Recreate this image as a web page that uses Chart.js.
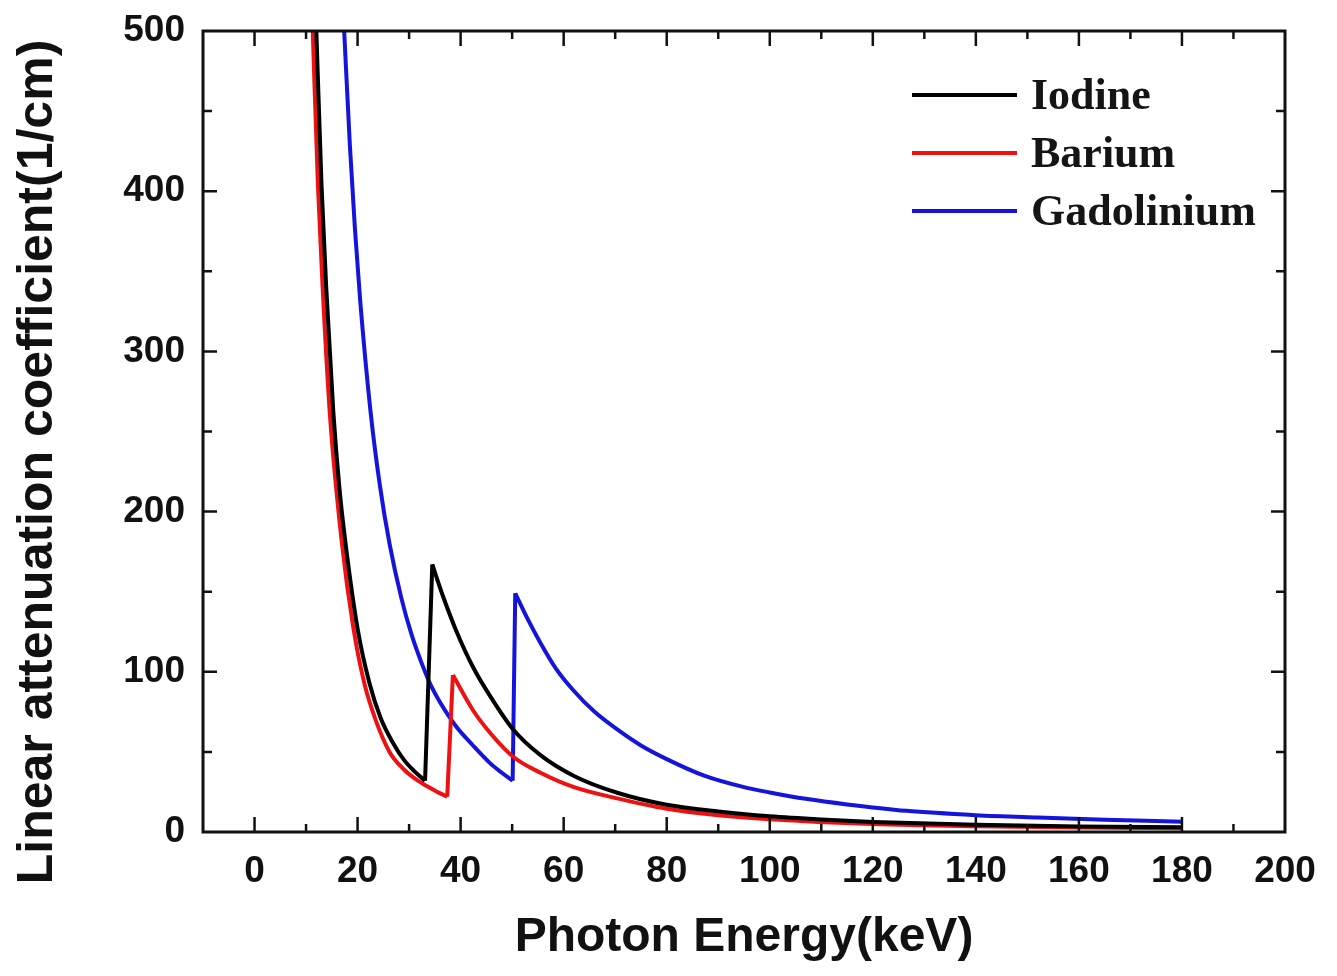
<!DOCTYPE html>
<html>
<head>
<meta charset="utf-8">
<script src="https://cdn.jsdelivr.net/npm/chart.js@4.4.0/dist/chart.umd.min.js"></script>
<style>
  html, body { margin: 0; padding: 0; background: #fff; }
  #wrap { width: 1337px; height: 976px; }
</style>
</head>
<body>
<div id="wrap"><canvas id="attenChart" width="1337" height="976"></canvas></div>
<script>
// Photon energy (keV) and linear attenuation coefficient (1/cm)
const iodineEnergy = [12.0, 13.0, 13.9, 15.3, 16.5, 17.6, 20, 22.3, 24.5, 26.8, 29, 31, 33.1,
    34.5, 36.6, 39.1, 42.4, 45.7, 50.2, 55.5, 62, 70.4, 80, 90, 100, 110, 120, 140, 160, 180];
const iodineMu = [500, 404, 341, 262, 214, 182, 127, 93, 71, 56, 45, 38, 32,
    167, 147, 126, 103, 85, 64, 48, 35, 24.5, 17, 12.8, 9.8, 7.8, 6.3, 4.5, 3.5, 3];

const bariumEnergy = [11.3, 12.3, 13.2, 14.6, 16.9, 19.2, 21.3, 23.5, 26.2, 29, 31.5, 33.5, 35.5, 37.4,
    38.5, 42.4, 45.7, 50.2, 55.5, 62, 70.4, 80, 90, 100, 120, 140, 160, 180];
const bariumMu = [500, 404, 341, 262, 182, 127, 93, 70, 50, 39, 32.5, 28.5, 25, 22,
    98, 76, 62, 47, 37, 28, 21, 14.5, 10.5, 8, 5, 3.6, 2.8, 2.3];

const gadoliniumEnergy = [17.4, 18.5, 19.5, 20.5, 22.5, 24.3, 26.2, 28.5, 30.5, 32.6, 34.3, 36, 39.1,
    42.4, 45.7, 48, 50.1,
    50.6, 53, 55.5, 58.5, 62, 66, 70.4, 75, 80, 87.4, 95, 100, 107, 115, 126.5, 140, 152, 165, 180];
const gadoliniumMu = [500, 429, 376, 332, 263, 217, 180, 146, 123, 104, 91, 81, 66,
    54, 43, 37, 32,
    149, 133, 118, 102, 88, 75, 64, 54, 45.5, 35, 28, 24.7, 20.7, 17.2, 13.2, 10.5, 9, 7.6, 6.4];

const seriesNames = ['Iodine', 'Barium', 'Gadolinium'];
const seriesColors = ['#000000', '#ee1111', '#1414dd'];

const xTickMin = -10, xTickMax = 200;
const yTickMin = 0, yTickMax = 500;

function toPoints(xs, ys) {
    return xs.map((v, i) => ({ x: v, y: ys[i] }));
}

// split a curve at its K-edge: smooth part before, straight jump, smooth part after
function edgeDatasets(name, color, xs, ys) {
    const k = ys.findIndex((v, i) => i > 0 && v > ys[i - 1]);
    const pts = toPoints(xs, ys);
    return [
        { label: name, data: pts.slice(0, k), borderColor: color },
        { label: name, data: pts.slice(k - 1, k + 1), borderColor: color, cubicInterpolationMode: 'default', tension: 0 },
        { label: name, data: pts.slice(k), borderColor: color }
    ];
}

// frame, inward ticks on all four sides, rotated y title and the legend
const frameAndLegend = {
    id: 'frameAndLegend',
    afterDraw(chart) {
        const { ctx, chartArea: a, scales: { x, y } } = chart;
        ctx.save();
        ctx.strokeStyle = '#111';
        ctx.lineWidth = 3;
        ctx.strokeRect(a.left, a.top, a.right - a.left, a.bottom - a.top);

        ctx.lineWidth = 2.5;
        ctx.beginPath();
        x.ticks.forEach(t => {
            if (t.value <= xTickMin || t.value >= xTickMax) return;
            const px = x.getPixelForValue(t.value);
            const len = t.value % 20 === 0 ? 15 : 8;
            ctx.moveTo(px, a.bottom); ctx.lineTo(px, a.bottom - len);
            ctx.moveTo(px, a.top); ctx.lineTo(px, a.top + len);
        });
        y.ticks.forEach(t => {
            if (t.value <= yTickMin || t.value >= yTickMax) return;
            const py = y.getPixelForValue(t.value);
            const len = t.value % 100 === 0 ? 14 : 9;
            ctx.moveTo(a.left, py); ctx.lineTo(a.left + len, py);
            ctx.moveTo(a.right, py); ctx.lineTo(a.right - len, py);
        });
        ctx.stroke();

        // y axis title
        ctx.fillStyle = '#111';
        ctx.font = 'bold 50px "Liberation Sans", Arial, sans-serif';
        ctx.textAlign = 'center';
        ctx.textBaseline = 'middle';
        ctx.translate(38, 462);
        ctx.rotate(-Math.PI / 2);
        ctx.fillText('Linear attenuation coefficient(1/cm)', 0, 0);
        ctx.setTransform(1, 0, 0, 1, 0, 0);

        // legend
        ctx.font = 'bold 44px "Liberation Serif", "Times New Roman", serif';
        ctx.textAlign = 'left';
        ctx.textBaseline = 'middle';
        seriesNames.forEach((name, i) => {
            const ly = 95 + i * 58;
            ctx.strokeStyle = seriesColors[i];
            ctx.lineWidth = 4;
            ctx.beginPath();
            ctx.moveTo(912, ly);
            ctx.lineTo(1017, ly);
            ctx.stroke();
            ctx.fillStyle = '#151515';
            ctx.fillText(name, 1031, ly + 3);
        });
        ctx.restore();
    }
};

const ctx = document.getElementById('attenChart').getContext('2d');
const chart = new Chart(ctx, {
    type: 'line',
    data: {
        datasets: [
            ...edgeDatasets(seriesNames[0], seriesColors[0], iodineEnergy, iodineMu),
            ...edgeDatasets(seriesNames[1], seriesColors[1], bariumEnergy, bariumMu),
            ...edgeDatasets(seriesNames[2], seriesColors[2], gadoliniumEnergy, gadoliniumMu)
        ]
    },
    options: {
        responsive: false,
        animation: false,
        layout: { padding: { left: 0, top: 31, right: 52, bottom: 0 } },
        elements: {
            line: { borderWidth: 4, cubicInterpolationMode: 'monotone', fill: false, borderJoinStyle: 'round' },
            point: { radius: 0 }
        },
        plugins: {
            legend: { display: false },
            tooltip: { enabled: false }
        },
        scales: {
            x: {
                type: 'linear',
                min: xTickMin,
                max: xTickMax,
                grid: { display: false, drawTicks: false },
                border: { display: false },
                ticks: {
                    stepSize: 10,
                    autoSkip: false,
                    maxRotation: 0,
                    padding: 18,
                    color: '#111',
                    font: { family: '"Liberation Sans", Arial, sans-serif', size: 37, weight: 'bold' },
                    callback: v => (v % 20 === 0 ? v : '')
                },
                title: {
                    display: true,
                    text: 'Photon Energy(keV)',
                    color: '#111',
                    padding: { top: 0, bottom: 9 },
                    font: { family: '"Liberation Sans", Arial, sans-serif', size: 48, weight: 'bold' }
                },
                afterFit: scale => { scale.height = 144; }
            },
            y: {
                min: yTickMin,
                max: yTickMax,
                grid: { display: false, drawTicks: false },
                border: { display: false },
                ticks: {
                    stepSize: 50,
                    autoSkip: false,
                    padding: 18,
                    color: '#111',
                    font: { family: '"Liberation Sans", Arial, sans-serif', size: 37, weight: 'bold' },
                    callback: v => (v % 100 === 0 ? v : '')
                },
                afterFit: scale => {
                    scale.width = 203;
                    scale.paddingTop = 0;
                    scale.paddingBottom = 0;
                }
            }
        }
    },
    plugins: [frameAndLegend]
});
</script>
</body>
</html>
